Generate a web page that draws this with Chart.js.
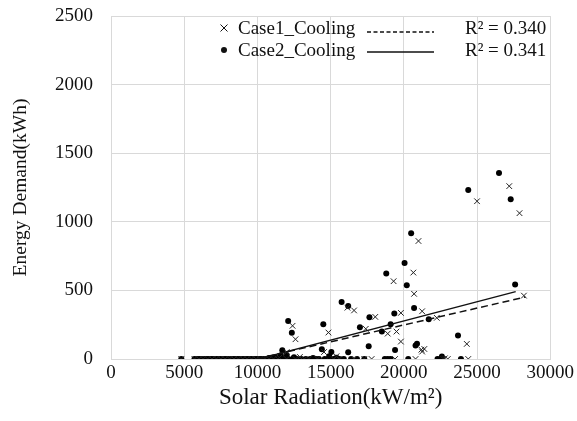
<!DOCTYPE html>
<html>
<head>
<meta charset="utf-8">
<script src="https://cdn.jsdelivr.net/npm/chart.js@4.4.1/dist/chart.umd.min.js"></script>
<style>
  html, body { margin: 0; padding: 0; background: #fff; }
</style>
</head>
<body>
<canvas id="grafico" width="577" height="421"></canvas>
<script>
// Datos (radiación solar vs demanda de energía)

const case1X = [4800, 5700, 6000, 6300, 6600, 6900, 7200, 7500, 7800, 8100, 8400, 8700, 9000, 9300,
  9600, 9900, 10200, 10500, 10800, 11100, 11400, 12000, 12600, 13200, 13500, 14100, 15200, 15600,
  16600, 17300, 17800, 19400, 20800, 22700, 23000, 24400,
  11500, 12000, 14550, 15400, 21250, 21400, 21200, 12900, 22800,
  12400, 12600, 14850, 16150, 16600, 17400, 18050, 18900, 19300, 19500, 19800, 19800, 20650, 20700,
  21000, 21250, 22250, 24300, 25000, 27200, 27900, 28200];
const case1Y = [0, 0, 0, 0, 0, 0, 0, 0, 0, 0, 0, 0, 0, 0,
  0, 0, 0, 0, 0, 0, 0, 0, 0, 0, 0, 0, 0, 0,
  0, 0, 0, 0, 0, 0, 0, 0,
  10, 50, 51, 20, 54, 73, 68, 15, 5,
  242, 144, 193, 374, 354, 220, 307, 185, 567, 200, 336, 127, 630, 475,
  860, 348, 300, 110, 1150, 1260, 1063, 462];

const case2X = [4800, 5700, 5900, 6050, 6200, 6400, 6550, 6700, 6850, 7000, 7200, 7350, 7500, 7700,
  7850, 8000, 8200, 8350, 8500, 8650, 8800, 9000, 9150, 9300, 9450, 9600, 9800, 9950, 10100, 10250,
  10400, 10600, 10750, 10900, 11100, 11300, 11500, 11800, 12100, 12400, 12700, 13000, 13300, 13600,
  14000, 14200, 14600, 15200, 15600, 15900, 16400, 16800, 17300, 18700, 18900, 19100, 20300, 22300,
  22500, 23900,
  10800, 11200, 11600, 11700, 12000, 12500, 14400, 14900, 15050, 16200, 17600, 19400, 20800, 20900,
  22600, 15400, 13800,
  12100, 12350, 14500, 15750, 16200, 17000, 17650, 18500, 18800, 19100, 19350, 20050, 20200, 20500,
  20700, 21700, 23700, 24400, 26500, 27300, 27600];
const case2Y = [0, 0, 0, 0, 0, 0, 0, 0, 0, 0, 0, 0, 0, 0,
  0, 0, 0, 0, 0, 0, 0, 0, 0, 0, 0, 0, 0, 0, 0, 0,
  0, 0, 0, 0, 0, 0, 0, 0, 0, 0, 0, 0, 0, 0,
  0, 0, 0, 0, 0, 0, 0, 0, 0, 0, 0, 0, 0, 0,
  0, 0,
  8, 15, 25, 63, 30, 12, 71, 20, 51, 49, 93, 66, 98, 112,
  18, 10, 8,
  277, 192, 253, 415, 386, 231, 304, 200, 623, 253, 331, 700, 538, 917,
  372, 290, 171, 1231, 1355, 1165, 543];

// Líneas de tendencia (extremos visibles)
const trend1X = [9900, 28300];
const trend1Y = [0, 452];
const trend2X = [10100, 27640];
const trend2Y = [0, 491];

const xTicks = [0, 5000, 10000, 15000, 20000, 25000, 30000];
const yTicks = [0, 500, 1000, 1500, 2000, 2500];

const legendLabels = ["Case1_Cooling", "Case2_Cooling"];
const legendR2 = ["R² = 0.340", "R² = 0.341"];

let toPoints = (xs, ys) => xs.map((x, i) => ({ x: x, y: ys[i] }));

const FUENTE = "'Liberation Serif', 'Times New Roman', serif";

// Leyenda dibujada a mano, como en Excel
const leyendaPlugin = {
  id: "leyenda",
  afterDraw(chart) {
    const ctx = chart.ctx;
    ctx.save();
    ctx.font = "19px " + FUENTE;
    ctx.fillStyle = "#111";
    ctx.strokeStyle = "#111";
    ctx.textBaseline = "alphabetic";
    const filas = [34, 56];
    filas.forEach((yb, i) => {
      // marcador
      const mx = 224, my = yb - 6;
      if (i === 0) {
        ctx.lineWidth = 1;
        ctx.beginPath();
        ctx.moveTo(mx - 3.5, my - 3.5); ctx.lineTo(mx + 3.5, my + 3.5);
        ctx.moveTo(mx + 3.5, my - 3.5); ctx.lineTo(mx - 3.5, my + 3.5);
        ctx.stroke();
      } else {
        ctx.beginPath();
        ctx.arc(mx, my, 3, 0, Math.PI * 2);
        ctx.fill();
      }
      ctx.fillText(legendLabels[i], 238, yb);
      // muestra de línea
      ctx.lineWidth = i === 0 ? 1.5 : 1.3;
      ctx.setLineDash(i === 0 ? [4, 2.5] : []);
      ctx.beginPath();
      ctx.moveTo(367, yb - 2 - i * 2);
      ctx.lineTo(434, yb - 2 - i * 2);
      ctx.stroke();
      ctx.setLineDash([]);
      ctx.fillText(legendR2[i], 465, yb);
    });
    ctx.restore();
  },
};

const ctx = document.getElementById("grafico");

new Chart(ctx, {
  type: "scatter",
  data: {
    datasets: [
      {
        label: "Case1_Cooling trend",
        data: toPoints(trend1X, trend1Y),
        showLine: true,
        borderColor: "#111",
        borderWidth: 1.5,
        borderDash: [7, 4],
        pointRadius: 0,
      },
      {
        label: "Case2_Cooling trend",
        data: toPoints(trend2X, trend2Y),
        showLine: true,
        borderColor: "#111",
        borderWidth: 1.3,
        pointRadius: 0,
      },
      {
        label: legendLabels[0],
        data: toPoints(case1X, case1Y),
        pointStyle: "crossRot",
        pointRadius: 4,
        borderColor: "#222",
        borderWidth: 1,
      },
      {
        label: legendLabels[1],
        data: toPoints(case2X, case2Y),
        pointStyle: "circle",
        pointRadius: 3,
        backgroundColor: "#000",
        borderColor: "#000",
        borderWidth: 0,
      },
    ],
  },
  options: {
    responsive: false,
    animation: false,
    devicePixelRatio: 1,
    layout: { padding: { top: 16, right: 25, bottom: 0, left: 0 } },
    plugins: {
      legend: { display: false },
      tooltip: { enabled: false },
    },
    scales: {
      x: {
        type: "linear",
        min: xTicks[0],
        max: xTicks[xTicks.length - 1],
        afterBuildTicks: (scale) => { scale.ticks = xTicks.map((v) => ({ value: v })); },
        afterFit: (scale) => { scale.height = 62; },
        grid: { color: "#d9d9d9", drawTicks: false },
        border: { color: "#d9d9d9" },
        ticks: {
          padding: 3,
          color: "#111",
          font: { family: FUENTE, size: 19 },
          callback: (v) => String(v),
        },
        title: {
          display: true,
          text: "Solar Radiation(kW/m²)",
          color: "#111",
          font: { family: FUENTE, size: 23 },
          padding: { top: 0, bottom: 9 },
        },
      },
      y: {
        min: yTicks[0],
        max: yTicks[yTicks.length - 1],
        afterBuildTicks: (scale) => { scale.ticks = yTicks.map((v) => ({ value: v })); },
        afterFit: (scale) => {
          scale.width = 111;
          scale.paddingTop = 0;
          scale.paddingBottom = 0;
        },
        grid: { color: "#d9d9d9", drawTicks: false },
        border: { color: "#d9d9d9" },
        ticks: {
          padding: 18,
          color: "#111",
          font: { family: FUENTE, size: 19 },
          callback: (v) => String(v),
        },
        title: {
          display: true,
          text: "Energy Demand(kWh)",
          color: "#111",
          font: { family: FUENTE, size: 19.5 },
          padding: { top: 9, bottom: 0 },
        },
      },
    },
  },
  plugins: [leyendaPlugin],
});
</script>
</body>
</html>
